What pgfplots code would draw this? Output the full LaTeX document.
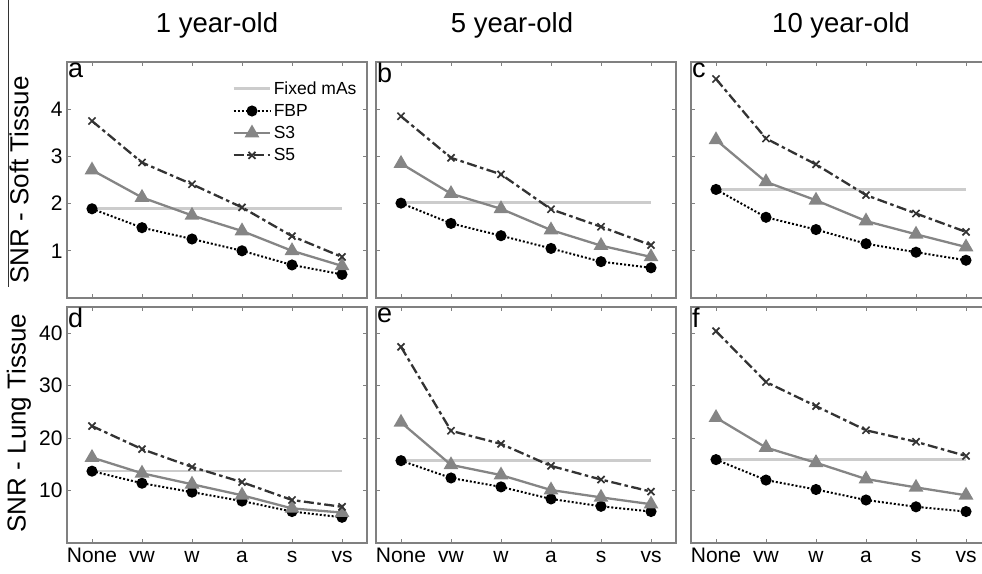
\documentclass[border=0pt]{standalone}
\usepackage{fontspec}
\setmainfont{Liberation Sans}
\usepackage{pgfplots}
\pgfplotsset{compat=1.18}

\definecolor{fixedc}{gray}{0.8}
\definecolor{s3c}{gray}{0.52}
\definecolor{s5c}{gray}{0.2}
\definecolor{framec}{gray}{0.5}

\pgfplotsset{
  panel/.style={
    scale only axis, width=300pt, height=236pt,
    xmin=0.5, xmax=6.5, xtick={1,2,3,4,5,6},
    xticklabels={None,vw,w,a,s,vs},
    tick align=inside, tick pos=both,
    major tick length=4pt,
    axis line style={framec, line width=1.1pt},
    tick style={framec, line width=0.8pt},
    tick label style={font=\fontsize{21}{21}\selectfont},
    /pgf/number format/assume math mode=true,
    xticklabel style={anchor=north, text height=15pt, text depth=0pt, yshift=-1pt},
    yticklabel style={xshift=-1pt},
    clip=false,
  },
  fixedl/.style={fixedc, line width=2.6pt},
  fbpl/.style={black, line width=2pt, dash pattern=on 2pt off 2pt, mark=*, mark size=4.5pt, mark options={solid}},
  s3l/.style={s3c, line width=2.3pt, mark=triangle*, mark size=6.3pt, mark options={solid}},
  s5l/.style={s5c, line width=2.3pt, dash pattern=on 10pt off 3.5pt on 3.5pt off 3.5pt, mark=x, mark size=5pt, mark options={solid, line width=1.7pt}},
  top/.style={ymin=0, ymax=5, ytick={1,2,3,4}, xticklabels={}},
  bot/.style={ymin=0, ymax=45, ytick={10,20,30,40}},
  /pgfplots/legend image code/.code={%
    \draw[mark repeat=2,mark phase=2,#1] plot coordinates {(0cm,0cm) (0.65cm,0cm) (1.3cm,0cm)};},
}

\newcommand{\plet}[1]{\node[anchor=north west, inner sep=1pt, font=\fontsize{27}{27}\selectfont] at (rel axis cs:0,1) {#1};}

\begin{document}
\begin{tikzpicture}
\path[use as bounding box] (0pt,0pt) rectangle (982pt,-573pt);
\draw[gray!40!black, line width=0.9pt] (8pt,0pt) -- (8pt,-287pt);

% titles
\node[anchor=base, font=\fontsize{27.5}{27.5}\selectfont] at (217pt,-32pt) {1 year-old};
\node[anchor=base, font=\fontsize{27.5}{27.5}\selectfont] at (512pt,-32pt) {5 year-old};
\node[anchor=base, font=\fontsize{27.5}{27.5}\selectfont] at (841pt,-32pt) {10 year-old};

% y labels
\node[rotate=90, font=\fontsize{26}{26}\selectfont] at (19pt,-180pt) {SNR - Soft Tissue};
\node[rotate=90, font=\fontsize{26}{26}\selectfont] at (19pt,-423pt) {SNR - Lung Tissue};

% ---- panel a
\begin{axis}[panel, top, at={(67pt,-298pt)}, anchor=south west,
  legend style={at={(0.54,0.935)}, anchor=north west, draw=none, fill=none,
    font=\fontsize{17.5}{17.5}\selectfont, row sep=4.5pt, cells={anchor=west}},
  legend cell align=left]
\addplot[fixedl] coordinates {(1,1.90) (6,1.90)};
\addplot[fbpl] coordinates {(1,1.89) (2,1.49) (3,1.25) (4,1.00) (5,0.70) (6,0.50)};
\addplot[s3l] coordinates {(1,2.71) (2,2.13) (3,1.75) (4,1.42) (5,1.00) (6,0.68)};
\addplot[s5l] coordinates {(1,3.75) (2,2.87) (3,2.41) (4,1.92) (5,1.31) (6,0.87)};
\legend{Fixed mAs, FBP, S3, S5}
\plet{a}
\end{axis}

% ---- panel b
\begin{axis}[panel, top, yticklabels={}, at={(376pt,-298pt)}, anchor=south west]
\addplot[fixedl] coordinates {(1,2.02) (6,2.02)};
\addplot[fbpl] coordinates {(1,2.01) (2,1.58) (3,1.32) (4,1.05) (5,0.77) (6,0.64)};
\addplot[s3l] coordinates {(1,2.85) (2,2.21) (3,1.89) (4,1.44) (5,1.11) (6,0.87)};
\addplot[s5l] coordinates {(1,3.85) (2,2.97) (3,2.62) (4,1.88) (5,1.51) (6,1.12)};
\plet{b}
\end{axis}

% ---- panel c
\begin{axis}[panel, top, yticklabels={}, at={(691pt,-298pt)}, anchor=south west]
\addplot[fixedl] coordinates {(1,2.30) (6,2.30)};
\addplot[fbpl] coordinates {(1,2.30) (2,1.71) (3,1.45) (4,1.15) (5,0.97) (6,0.80)};
\addplot[s3l] coordinates {(1,3.35) (2,2.46) (3,2.07) (4,1.63) (5,1.35) (6,1.08)};
\addplot[s5l] coordinates {(1,4.64) (2,3.38) (3,2.83) (4,2.18) (5,1.79) (6,1.40)};
\plet{c}
\end{axis}

% ---- panel d
\begin{axis}[panel, bot, at={(67pt,-543pt)}, anchor=south west]
\addplot[fixedl] coordinates {(1,13.7) (6,13.7)};
\addplot[fbpl] coordinates {(1,13.7) (2,11.4) (3,9.7) (4,8.0) (5,6.0) (6,4.9)};
\addplot[s3l] coordinates {(1,16.3) (2,13.3) (3,11.2) (4,9.1) (5,6.6) (6,5.8)};
\addplot[s5l] coordinates {(1,22.3) (2,17.9) (3,14.5) (4,11.6) (5,8.2) (6,6.9)};
\plet{d}
\end{axis}

% ---- panel e
\begin{axis}[panel, bot, yticklabels={}, at={(376pt,-543pt)}, anchor=south west]
\addplot[fixedl] coordinates {(1,15.7) (6,15.7)};
\addplot[fbpl] coordinates {(1,15.7) (2,12.4) (3,10.7) (4,8.4) (5,7.0) (6,6.0)};
\addplot[s3l] coordinates {(1,23.0) (2,14.9) (3,12.95) (4,10.1) (5,8.7) (6,7.4)};
\addplot[s5l] coordinates {(1,37.4) (2,21.4) (3,18.9) (4,14.7) (5,12.1) (6,9.8)};
\plet{e}
\end{axis}

% ---- panel f
\begin{axis}[panel, bot, yticklabels={}, at={(691pt,-543pt)}, anchor=south west]
\addplot[fixedl] coordinates {(1,15.9) (6,15.9)};
\addplot[fbpl] coordinates {(1,15.9) (2,12.0) (3,10.2) (4,8.2) (5,6.9) (6,6.0)};
\addplot[s3l] coordinates {(1,23.9) (2,18.2) (3,15.3) (4,12.2) (5,10.6) (6,9.1)};
\addplot[s5l] coordinates {(1,40.4) (2,30.7) (3,26.1) (4,21.5) (5,19.3) (6,16.6)};
\plet{f}
\end{axis}
\end{tikzpicture}
\end{document}
